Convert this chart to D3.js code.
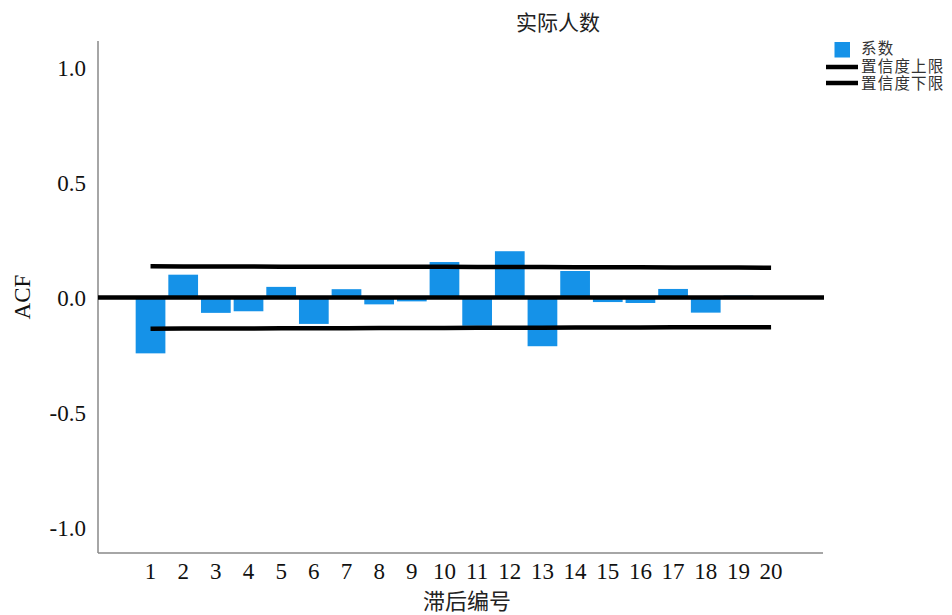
<!DOCTYPE html>
<html><head><meta charset="utf-8">
<script src="https://cdn.jsdelivr.net/npm/d3@7"></script>
<style>body{margin:0;background:#fff}svg{display:block}</style>
</head><body>
<svg id="c" width="952" height="615"></svg>
<script>
const lags = [1,2,3,4,5,6,7,8,9,10,11,12,13,14,15,16,17,18,19,20];
const acf = [-0.243,0.099,-0.067,-0.060,0.046,-0.115,0.036,-0.030,-0.017,0.154,-0.123,0.201,-0.212,0.115,-0.020,-0.024,0.037,-0.066,0.008,0.002];
const upperLimit = [0.136,0.135,0.135,0.135,0.134,0.134,0.134,0.133,0.133,0.133,0.132,0.132,0.132,0.131,0.131,0.131,0.130,0.130,0.130,0.129];
const lowerLimit = [-0.136,-0.135,-0.135,-0.135,-0.134,-0.134,-0.134,-0.133,-0.133,-0.133,-0.132,-0.132,-0.132,-0.131,-0.131,-0.131,-0.130,-0.130,-0.130,-0.129];
const yTicks = [1.0,0.5,0.0,-0.5,-1.0];
const title = "实际人数";
const xTitle = "滞后编号";
const yTitle = "ACF";
const legendLabels = ["系数","置信度上限","置信度下限"];

const svg = d3.select("#c");
const x = d3.scaleBand().domain(lags).range([134.2, 787.4]).paddingInner(0.09).paddingOuter(0.045);
const y = d3.scaleLinear().domain([-1.111, 1.115]).range([553, 41]);
const blue = "#1592e8";
const serif = "'Liberation Serif','Times New Roman',serif";
const cjk = "'Noto Sans CJK SC','Noto Sans CJK JP',sans-serif";

// bars
svg.append("g").selectAll("rect").data(lags).join("rect")
  .attr("x", d => x(d))
  .attr("width", x.bandwidth())
  .attr("y", (d,i) => y(Math.max(0, acf[i])))
  .attr("height", (d,i) => Math.abs(y(acf[i]) - y(0)))
  .attr("fill", blue);

// axes
const yAxis = d3.axisLeft(y).tickValues(yTicks).tickSize(0).tickPadding(12).tickFormat(d3.format(".1f"));
const gy = svg.append("g").attr("transform","translate(98,0)").call(yAxis);
gy.select(".domain").attr("stroke","#888").attr("stroke-width",1.5).attr("d","M0,41V553");
gy.selectAll("text").attr("font-family",serif).attr("font-size",23).attr("fill","#111").attr("dy","0.34em")
  .text(d => d3.format(".1f")(d).replace("−","-"));

const xAxis = d3.axisBottom(x).tickSize(0).tickPadding(6);
const gx = svg.append("g").attr("transform","translate(0,553)").call(xAxis);
gx.select(".domain").attr("stroke","#888").attr("stroke-width",1.5).attr("d","M98,0H823");
gx.selectAll("text").attr("font-family",serif).attr("font-size",23).attr("fill","#111").attr("dy","0.85em");

// zero line
svg.append("line").attr("x1",98).attr("x2",824).attr("y1",y(0)).attr("y2",y(0))
  .attr("stroke","#000").attr("stroke-width",4.5);

// confidence limits
const line = d3.line().x((d,i) => x(lags[i]) + x.bandwidth()/2).y(d => y(d));
[upperLimit, lowerLimit].forEach(arr => {
  svg.append("path").attr("d", line(arr)).attr("fill","none").attr("stroke","#000").attr("stroke-width",4.5);
});

// titles
svg.append("text").attr("x",558).attr("y",30).attr("text-anchor","middle")
  .attr("font-family",cjk).attr("font-size",21).attr("fill","#222").text(title);
svg.append("text").attr("x",467).attr("y",609).attr("text-anchor","middle")
  .attr("font-family",cjk).attr("font-size",22).attr("fill","#222").text(xTitle);
svg.append("text").attr("transform","translate(30,297) rotate(-90)").attr("text-anchor","middle")
  .attr("font-family",serif).attr("font-size",23).attr("fill","#111").text(yTitle);

// legend
const lg = svg.append("g");
lg.append("rect").attr("x",834.5).attr("y",42).attr("width",15.5).attr("height",15.5).attr("fill",blue);
lg.append("line").attr("x1",826).attr("x2",858).attr("y1",67).attr("y2",67).attr("stroke","#000").attr("stroke-width",4.5);
lg.append("line").attr("x1",826).attr("x2",858).attr("y1",83).attr("y2",83).attr("stroke","#000").attr("stroke-width",4.5);
lg.selectAll("text.l").data(legendLabels).join("text").attr("class","l")
  .attr("x",861).attr("y",(d,i) => 48.5 + i*17.5).attr("dy","0.36em")
  .attr("letter-spacing",1.2)
  .attr("font-family","'Liberation Sans','Noto Sans CJK SC',sans-serif").attr("font-size",15.5).attr("fill","#333").text(d => d);
</script>
</body></html>
